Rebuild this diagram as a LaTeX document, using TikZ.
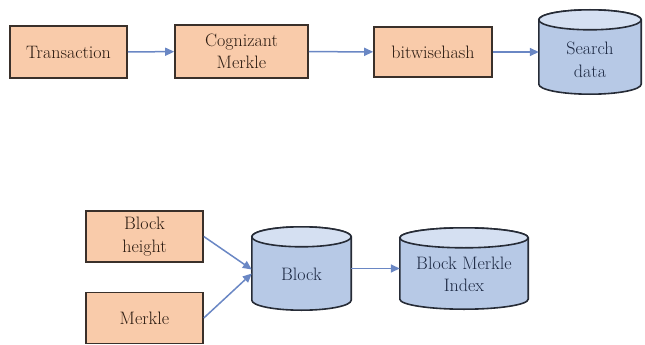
\documentclass[tikz,border=0pt]{standalone}
\usetikzlibrary{arrows.meta,backgrounds,calc}

\definecolor{boxfill}{HTML}{F9CBAA}
\definecolor{boxline}{HTML}{3A302A}
\definecolor{boxtext}{HTML}{2A1A10}
\definecolor{cylfill}{HTML}{B7C9E6}
\definecolor{cyltop}{HTML}{D5E0F2}
\definecolor{cylline}{HTML}{262B36}
\definecolor{cyltext}{HTML}{1C2842}
\definecolor{flow}{HTML}{6A87C4}

\tikzset{
  stagebox/.style={draw=boxline, line width=1.6pt, fill=boxfill,
    text=boxtext, align=center, inner sep=0pt,
    font=\rmfamily\fontsize{18}{22.5}\selectfont},
  store/.style={inner sep=0pt, text=cyltext, align=center,
    font=\rmfamily\fontsize{18}{22.5}\selectfont},
  cylbody/.style={draw=cylline, line width=1.6pt, fill=cylfill},
  cylcap/.style={draw=cylline, line width=1.6pt, fill=cyltop},
  flowarrow/.style={draw=flow, line width=1.5pt,
    -{Triangle[length=9pt,width=8pt]}},
}

\begin{document}
\begin{tikzpicture}[x=1pt, y=-1pt]
  \useasboundingbox (0,0) rectangle (645,345);

  % processing steps (rectangles)
  \node[stagebox, minimum width=117pt, minimum height=52pt] (tr) at (68.5,52) {Transaction};
  \node[stagebox, minimum width=133pt, minimum height=53pt] (cm) at (241.5,51.5) {Cognizant\\Merkle};
  \node[stagebox, minimum width=118pt, minimum height=50pt] (bw) at (433,52) {bitwisehash};
  \node[stagebox, minimum width=117pt, minimum height=51pt] (bh) at (144.5,236.5) {Block\\height};
  \node[stagebox, minimum width=117pt, minimum height=51pt] (mk) at (144.5,318) {Merkle};

  % data stores (cylinders), text set below the top cap
  \node[store, minimum width=102pt, minimum height=84pt,
        label={[store, yshift=-8pt]center:Search\\data}] (sd) at (590,52) {};
  \node[store, minimum width=99pt, minimum height=83pt,
        label={[store, yshift=-6pt]center:Block}] (blk) at (301.5,268.5) {};
  \node[store, minimum width=128pt, minimum height=81pt,
        label={[store, yshift=-6pt]center:Block Merkle\\Index}] (bmi) at (464,268.5) {};

  \begin{scope}[on background layer]
    \foreach \cyl in {sd,blk,bmi}{
      \path[cylbody] let \p1=(\cyl.north west), \p2=(\cyl.south east),
                \n1={(\x2-\x1)/2} in
        (\x1,\y1-10pt) -- (\x1,\y2+10pt)
          arc[start angle=180, end angle=360, x radius=\n1, y radius=10pt]
          -- (\x2,\y1-10pt)
          arc[start angle=0, end angle=180, x radius=\n1, y radius=10pt]
          -- cycle;
      \path[cylcap] let \p1=(\cyl.north west), \p2=(\cyl.south east),
                \n1={(\x2-\x1)/2} in
        (\x1+\n1,\y1-10pt) ellipse[x radius=\n1, y radius=10pt];
    }
  \end{scope}

  % flow
  \draw[flowarrow] (tr) -- (cm);
  \draw[flowarrow] (cm) -- (bw);
  \draw[flowarrow] (bw) -- (sd);
  \draw[flowarrow] (bh.east) -- ([yshift=-1pt]blk.west);
  \draw[flowarrow] (mk.east) -- ([yshift=-5pt]blk.west);
  \draw[flowarrow] (blk) -- (bmi);
\end{tikzpicture}
\end{document}
